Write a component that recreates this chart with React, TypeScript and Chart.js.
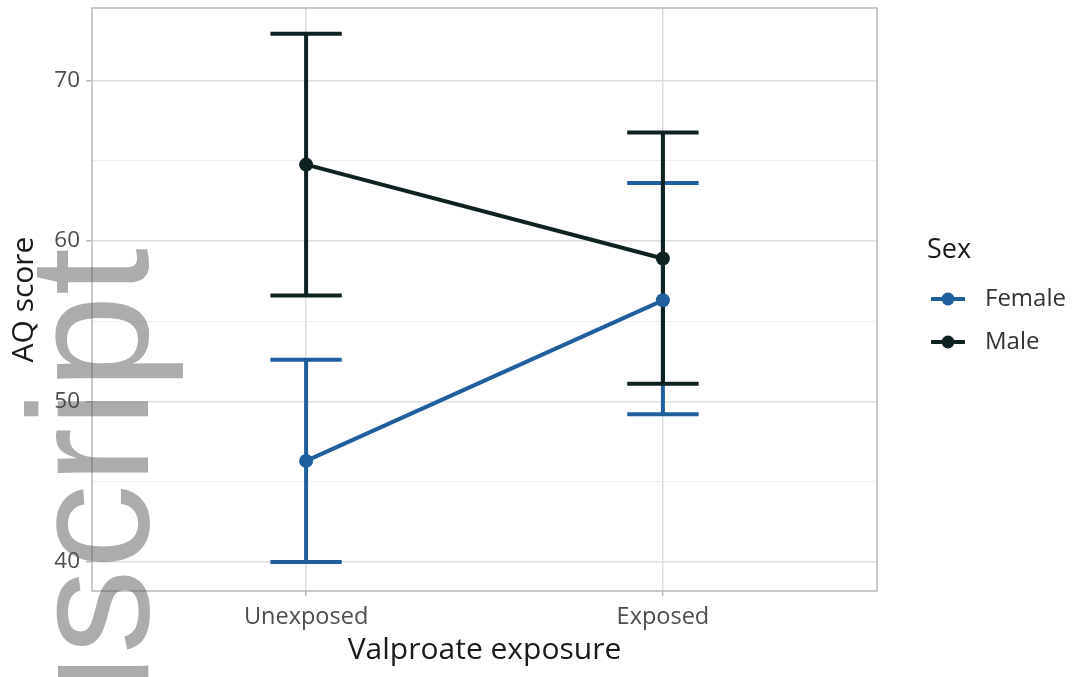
import React, { useEffect, useRef } from "react";
import { Chart, registerables } from "chart.js";

Chart.register(...registerables);

// ---------- data ----------
const categories = ["Unexposed", "Exposed"];
const categoryPositions = [1, 2];
const seriesNames = ["Female", "Male"];
const femaleMean = [46.3, 56.3];
const femaleLower = [40.0, 49.2];
const femaleUpper = [52.6, 63.6];
const maleMean = [64.75, 58.9];
const maleLower = [56.6, 51.1];
const maleUpper = [72.9, 66.75];
const yTicks = [40, 45, 50, 55, 60, 65, 70];
const yLabelTicks = [40, 50, 60, 70];

// ---------- styles ----------
const FONT = "'Open Sans', 'DejaVu Sans', sans-serif";
const FEMALE_COLOR = "#1f5f9e";
const MALE_COLOR = "#0f2222";
const MAJOR_GRID = "#dedede";
const MINOR_GRID = "#eeeeee";
const BORDER = "#b8b8b8";

const errorBarPlugin = {
  id: "errorBars",
  beforeDatasetsDraw(chart: any) {
    const { ctx, scales } = chart;
    const xs = scales.x;
    const ys = scales.y;
    const dsList = [...chart.data.datasets].sort(
      (a: any, b: any) => (b.order ?? 0) - (a.order ?? 0)
    );
    ctx.save();
    dsList.forEach((ds: any) => {
      ctx.strokeStyle = ds.borderColor;
      ctx.lineWidth = 4;
      ctx.lineCap = "butt";
      ds.data.forEach((pt: any, i: number) => {
        const x = xs.getPixelForValue(pt.x);
        const xl = xs.getPixelForValue(pt.x - 0.1);
        const xr = xs.getPixelForValue(pt.x + 0.1);
        const yl = ys.getPixelForValue(ds.errLow[i]);
        const yh = ys.getPixelForValue(ds.errHigh[i]);
        ctx.beginPath();
        ctx.moveTo(x, yl);
        ctx.lineTo(x, yh);
        ctx.moveTo(xl, yl);
        ctx.lineTo(xr, yl);
        ctx.moveTo(xl, yh);
        ctx.lineTo(xr, yh);
        ctx.stroke();
      });
    });
    ctx.restore();
  },
  afterDraw(chart: any) {
    const { ctx, chartArea } = chart;
    ctx.save();
    // panel border
    ctx.strokeStyle = BORDER;
    ctx.lineWidth = 1.5;
    ctx.strokeRect(
      chartArea.left,
      chartArea.top,
      chartArea.right - chartArea.left,
      chartArea.bottom - chartArea.top
    );

    // legend
    ctx.fillStyle = "#1a1a1a";
    ctx.font = `27px ${FONT}`;
    ctx.textAlign = "left";
    ctx.textBaseline = "middle";
    ctx.fillText("Sex", 927, 250);
    const colors = [FEMALE_COLOR, MALE_COLOR];
    const rowsY = [299, 342];
    seriesNames.forEach((name, i) => {
      const y = rowsY[i];
      ctx.strokeStyle = colors[i];
      ctx.lineWidth = 4;
      ctx.beginPath();
      ctx.moveTo(931, y);
      ctx.lineTo(965, y);
      ctx.stroke();
      ctx.fillStyle = colors[i];
      ctx.beginPath();
      ctx.arc(948, y, 6.5, 0, Math.PI * 2);
      ctx.fill();
      ctx.fillStyle = "#333333";
      ctx.font = `24px ${FONT}`;
      ctx.fillText(name, 985, y);
    });

    // watermark
    ctx.translate(148, 248);
    ctx.rotate(-Math.PI / 2);
    ctx.font = `170px 'Liberation Sans', Arial, sans-serif`;
    ctx.textAlign = "right";
    ctx.textBaseline = "alphabetic";
    ctx.fillStyle = "rgba(70,70,70,0.45)";
    ctx.fillText("manuscript", 0, 0);
    ctx.restore();
  },
};

export default function App() {
  const canvasRef = useRef<HTMLCanvasElement | null>(null);

  useEffect(() => {
    if (!canvasRef.current) return;
    const chart = new Chart(canvasRef.current, {
      type: "line",
      data: {
        datasets: [
          {
            label: seriesNames[0],
            data: categoryPositions.map((x, i) => ({ x, y: femaleMean[i] })),
            errLow: femaleLower,
            errHigh: femaleUpper,
            borderColor: FEMALE_COLOR,
            backgroundColor: FEMALE_COLOR,
            borderWidth: 4,
            pointRadius: 7,
            pointBorderWidth: 0,
            pointBackgroundColor: FEMALE_COLOR,
            order: 1,
          } as any,
          {
            label: seriesNames[1],
            data: categoryPositions.map((x, i) => ({ x, y: maleMean[i] })),
            errLow: maleLower,
            errHigh: maleUpper,
            borderColor: MALE_COLOR,
            backgroundColor: MALE_COLOR,
            borderWidth: 4,
            pointRadius: 7,
            pointBorderWidth: 0,
            pointBackgroundColor: MALE_COLOR,
            order: 0,
          } as any,
        ],
      },
      options: {
        animation: false,
        responsive: true,
        maintainAspectRatio: false,
        layout: { padding: { left: 0, right: 200, top: 8, bottom: 0 } },
        plugins: {
          legend: { display: false },
          tooltip: { enabled: false },
        },
        scales: {
          x: {
            type: "linear",
            min: 0.4,
            max: 2.6,
            afterBuildTicks: (s: any) => {
              s.ticks = categoryPositions.map((v) => ({ value: v }));
            },
            afterFit: (s: any) => {
              s.height = 86;
              s.paddingLeft = 0;
              s.paddingRight = 0;
            },
            ticks: {
              callback: (v: any) => {
                const i = categoryPositions.indexOf(Number(v));
                return i >= 0 ? categories[i] : "";
              },
              font: { family: FONT, size: 23.5 },
              color: "#4d4d4d",
              padding: 7,
              maxRotation: 0,
            },
            grid: {
              color: MAJOR_GRID,
              lineWidth: 1.5,
              tickLength: 5,
              tickColor: BORDER,
              tickWidth: 1.5,
            },
            border: { display: false },
            title: {
              display: true,
              text: "Valproate exposure",
              font: { family: FONT, size: 30 },
              color: "#1a1a1a",
              padding: { top: 0, bottom: 9 },
            },
          },
          y: {
            type: "linear",
            min: 38.2,
            max: 74.5,
            afterBuildTicks: (s: any) => {
              s.ticks = yTicks.map((v) => ({ value: v }));
            },
            afterFit: (s: any) => {
              s.width = 92;
              s.paddingTop = 0;
              s.paddingBottom = 0;
            },
            ticks: {
              callback: (v: any) =>
                yLabelTicks.includes(Number(v)) ? String(v) : "",
              font: { family: FONT, size: 22.5 },
              color: "#4d4d4d",
              padding: 6,
            },
            grid: {
              color: (c: any) =>
                yLabelTicks.includes(c.tick?.value) ? MAJOR_GRID : MINOR_GRID,
              lineWidth: (c: any) =>
                yLabelTicks.includes(c.tick?.value) ? 1.5 : 1,
              tickLength: 6,
              tickColor: (c: any) =>
                yLabelTicks.includes(c.tick?.value) ? BORDER : "rgba(0,0,0,0)",
              tickWidth: 1.5,
            },
            border: { display: false },
            title: {
              display: true,
              text: "AQ score",
              font: { family: FONT, size: 30 },
              color: "#1a1a1a",
              padding: { top: 6, bottom: 0 },
            },
          },
        },
      } as any,
      plugins: [errorBarPlugin],
    });
    return () => chart.destroy();
  }, []);

  return (
    <div
      style={{
        position: "fixed",
        left: 0,
        top: 0,
        width: 1077,
        height: 677,
        background: "#ffffff",
      }}
    >
      <canvas ref={canvasRef} />
    </div>
  );
}
